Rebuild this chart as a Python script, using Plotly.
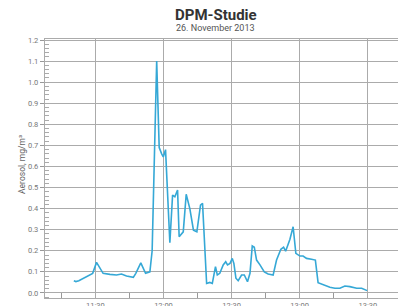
import plotly.graph_objects as go

DAY = "2013-11-26 "

times = [
    "11:20:30", "11:21:24", "11:22:42", "11:24:36", "11:27:06", "11:28:48",
    "11:30:30", "11:32:00", "11:33:24", "11:36:24", "11:39:18", "11:41:30",
    "11:43:42", "11:46:42", "11:47:48", "11:50:00", "11:52:06", "11:54:00",
    "11:55:00", "11:57:00", "11:58:06", "11:59:12", "11:59:54", "12:00:54",
    "12:02:30", "12:02:48", "12:04:00", "12:05:00", "12:06:12", "12:06:54",
    "12:08:42", "12:10:00", "12:11:36", "12:13:12", "12:14:42", "12:16:18",
    "12:17:12", "12:19:00", "12:20:24", "12:21:30", "12:22:54", "12:23:42",
    "12:24:48", "12:26:18", "12:27:24", "12:28:12", "12:29:18", "12:30:18",
    "12:31:00", "12:31:54", "12:32:54", "12:34:24", "12:35:36", "12:37:00",
    "12:38:06", "12:39:06", "12:40:00", "12:41:00", "12:42:30", "12:44:24",
    "12:46:06", "12:48:18", "12:49:48", "12:51:42", "12:52:54", "12:53:48",
    "12:55:42", "12:57:06", "12:58:18", "13:00:06", "13:01:30", "13:03:00",
    "13:05:12", "13:06:54", "13:08:06", "13:10:24", "13:13:18", "13:15:30",
    "13:17:42", "13:19:54", "13:22:06", "13:25:06", "13:27:18", "13:29:42",
]

aerosol = [
    0.058, 0.054, 0.058, 0.070, 0.085, 0.093,
    0.145, 0.118, 0.093, 0.088, 0.085, 0.090,
    0.080, 0.074, 0.093, 0.143, 0.093, 0.100,
    0.200, 1.100, 0.690, 0.660, 0.645, 0.680,
    0.250, 0.238, 0.464, 0.456, 0.488, 0.267,
    0.290, 0.468, 0.400, 0.298, 0.290, 0.417,
    0.425, 0.045, 0.050, 0.045, 0.125, 0.085,
    0.093, 0.133, 0.148, 0.133, 0.140, 0.164,
    0.140, 0.070, 0.058, 0.085, 0.085, 0.053,
    0.093, 0.223, 0.217, 0.156, 0.133, 0.100,
    0.090, 0.085, 0.156, 0.207, 0.217, 0.198,
    0.255, 0.314, 0.188, 0.175, 0.175, 0.164,
    0.160, 0.156, 0.049, 0.038, 0.027, 0.022,
    0.022, 0.033, 0.030, 0.022, 0.022, 0.011,
]

title_text = "DPM-Studie"
subtitle_text = "26. November 2013"
y_title = "Aerosol, mg/m³"

x_vals = [DAY + t for t in times]

fig = go.Figure()
fig.add_trace(go.Scatter(
    x=x_vals, y=aerosol, mode="lines",
    line=dict(color="#35a8d6", width=1.6),
    showlegend=False, hoverinfo="skip",
))

grid_col = "#ababab"
tick_font = dict(family="Roboto, DejaVu Sans", size=7.5, color="#777777")

# the page body adds an 8px offset, so the figure is 8px smaller
fig.update_layout(
    width=398, height=298,
    margin=dict(l=37, r=8, t=31, b=8),
    paper_bgcolor="white", plot_bgcolor="white",
    xaxis=dict(
        type="date", automargin=False,
        range=[DAY + "11:07:48", DAY + "13:43:18"],
        tick0=DAY + "11:30:00", dtick=30 * 60 * 1000,
        tickformat="%H:%M",
        showgrid=True, gridcolor=grid_col, gridwidth=1.3,
        ticks="", tickfont=tick_font, ticklabelstandoff=0,
        showline=True, linecolor=grid_col, linewidth=1.3, mirror=True,
        minor=dict(dtick=15 * 60 * 1000, ticks="inside", ticklen=5,
                   tickcolor="#999999", tickwidth=1, showgrid=False),
        zeroline=False,
    ),
    yaxis=dict(
        automargin=False,
        range=[-0.024, 1.205],
        tick0=0, dtick=0.1, tickformat=".1f",
        showgrid=True, gridcolor=grid_col, gridwidth=1.3,
        ticks="outside", ticklen=4, tickcolor="#999999", tickwidth=1,
        tickfont=tick_font,
        showline=True, linecolor=grid_col, linewidth=1.3, mirror=True,
        minor=dict(dtick=0.02, ticks="inside", ticklen=4,
                   tickcolor="#aaaaaa", tickwidth=1, showgrid=False),
        zeroline=False,
    ),
    annotations=[
        dict(text="<b>" + title_text + "</b>", xref="paper", yref="paper",
             x=0.484, y=1.093, xanchor="center", yanchor="middle",
             showarrow=False,
             font=dict(family="Roboto, DejaVu Sans", size=15, color="#333333")),
        dict(text=subtitle_text, xref="paper", yref="paper",
             x=0.484, y=1.042, xanchor="center", yanchor="middle",
             showarrow=False,
             font=dict(family="Roboto, DejaVu Sans", size=9, color="#555555")),
        dict(text=y_title, xref="paper", yref="paper",
             x=-0.065, y=0.514, xanchor="center", yanchor="middle",
             textangle=-90, showarrow=False,
             font=dict(family="Roboto, DejaVu Sans", size=8.5, color="#666666")),
    ],
)

fig.write_html("out.html")
